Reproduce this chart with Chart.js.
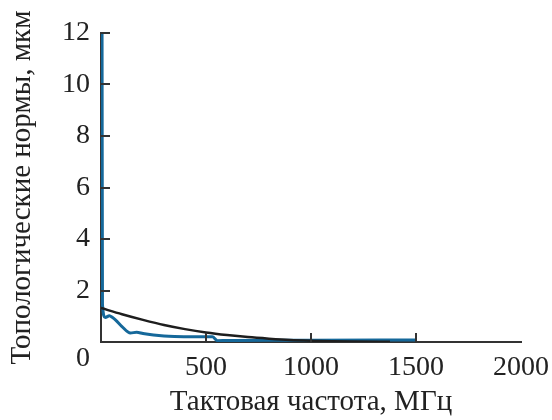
<!DOCTYPE html>
<html>
<head>
<meta charset="utf-8">
<script src="https://cdn.jsdelivr.net/npm/chart.js@4"></script>
<style>
html,body{margin:0;padding:0;background:#fff;}
#wrap{width:552px;height:420px;}
</style>
</head>
<body>
<div id="wrap"><canvas id="c" width="552" height="420"></canvas></div>
<script>
// Measured series (blue)
const blueX = [5, 7, 20, 40, 55, 70, 100, 140, 170, 200, 250, 300, 350, 450, 530, 555, 600, 800, 1000, 1500];
const blueY = [12, 1.45, 0.95, 1.02, 0.95, 0.85, 0.6, 0.35, 0.38, 0.33, 0.27, 0.23, 0.21, 0.2, 0.2, 0.05, 0.06, 0.07, 0.07, 0.08];
// Trend curve (black)
const trendX = [0, 100, 200, 300, 400, 500, 600, 700, 800, 900, 1000, 1100, 1200, 1376];
const trendY = [1.32, 1.08, 0.86, 0.66, 0.5, 0.37, 0.27, 0.19, 0.13, 0.08, 0.05, 0.03, 0.02, 0.01];
// Axis ticks
const xTicks = [0, 500, 1000, 1500, 2000];
const yTicks = [0, 2, 4, 6, 8, 10, 12];
const xTitle = 'Тактовая частота, МГц';
const yTitle = 'Топологические нормы, мкм';

const FONT = '"Liberation Serif", "Times New Roman", serif';
const TXT = '#222';
const AX = '#333';

const toPts = (xs, ys) => xs.map((x, i) => ({x: x, y: ys[i]}));

const inwardTicks = {
  id: 'inwardTicks',
  afterDraw(chart) {
    const ctx = chart.ctx;
    const xs = chart.scales.x, ys = chart.scales.y;
    const ca = chart.chartArea;
    ctx.save();
    ctx.strokeStyle = AX;
    ctx.lineWidth = 2;
    ctx.beginPath();
    xTicks.forEach(v => {
      if (v === 0 || v === 2000) return;
      const px = Math.round(xs.getPixelForValue(v));
      ctx.moveTo(px, ca.bottom);
      ctx.lineTo(px, ca.bottom - 9);
    });
    yTicks.forEach(v => {
      if (v === 0) return;
      const py = Math.round(ys.getPixelForValue(v));
      ctx.moveTo(ca.left, py);
      ctx.lineTo(ca.left + 9, py);
    });
    ctx.stroke();
    ctx.restore();
  }
};

new Chart(document.getElementById('c'), {
  type: 'line',
  data: {
    datasets: [
      {
        data: toPts(trendX, trendY),
        borderColor: '#1e1e1e',
        borderWidth: 2.5,
        pointRadius: 0,
        tension: 0.4,
        cubicInterpolationMode: 'monotone',
        fill: false
      },
      {
        data: toPts(blueX, blueY),
        borderColor: '#15689a',
        borderWidth: 3,
        pointRadius: 0,
        tension: 0.3,
        cubicInterpolationMode: 'monotone',
        fill: false
      }
    ]
  },
  options: {
    responsive: false,
    animation: false,
    events: [],
    layout: {padding: {left: 0, top: 33, right: 31, bottom: 0}},
    plugins: {legend: {display: false}, tooltip: {enabled: false}},
    scales: {
      x: {
        type: 'linear',
        min: 0, max: 2000,
        afterBuildTicks: s => { s.ticks = xTicks.map(v => ({value: v})); },
        afterFit: s => { s.height = 78; s.paddingLeft = 0; s.paddingRight = 0; },
        grid: {display: false, drawTicks: false},
        border: {display: true, color: AX, width: 2},
        ticks: {
          font: {family: FONT, size: 28},
          color: TXT,
          padding: 9,
          maxRotation: 0,
          autoSkip: false,
          callback: v => (v === 0 ? '' : String(v))
        },
        title: {
          display: true,
          text: xTitle,
          font: {family: FONT, size: 29},
          color: TXT,
          padding: {top: 0, bottom: 0}
        }
      },
      y: {
        type: 'linear',
        min: 0, max: 12,
        afterBuildTicks: s => { s.ticks = yTicks.map(v => ({value: v})); },
        afterFit: s => { s.width = 101; s.paddingTop = 0; s.paddingBottom = 0; },
        grid: {display: false, drawTicks: false},
        border: {display: true, color: AX, width: 2},
        ticks: {
          font: {family: FONT, size: 28},
          color: TXT,
          padding: 11,
          autoSkip: false,
          callback: v => (v === 0 ? ['', '0'] : String(v))
        },
        title: {
          display: true,
          text: yTitle,
          font: {family: FONT, size: 29},
          color: TXT,
          padding: {top: 5, bottom: 0}
        }
      }
    }
  },
  plugins: [inwardTicks]
});
</script>
</body>
</html>
